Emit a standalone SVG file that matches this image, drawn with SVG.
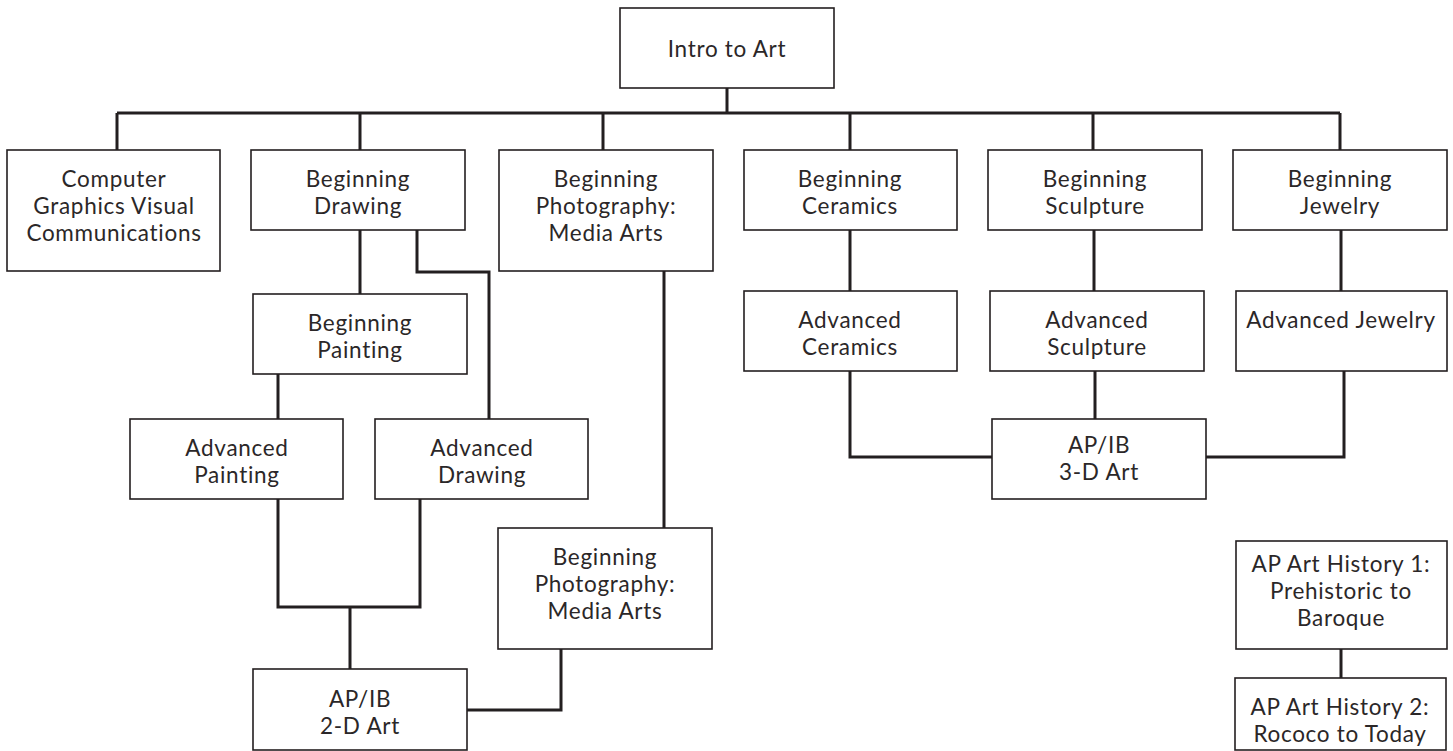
<svg xmlns="http://www.w3.org/2000/svg" width="1453" height="751" viewBox="0 0 1453 751">
<style>
.box{fill:#fff;stroke:#231f20;stroke-width:1.6}
.t{font-family:Lato,"Open Sans",sans-serif;font-size:22.5px;fill:#2b2728;text-anchor:middle;letter-spacing:0.7px}
.c{fill:none;stroke:#231f20;stroke-width:3}
</style>
<rect width="1453" height="751" fill="#fff"/>
<g id="connectors">
<path class="c" d="M727 88V113M117 113H1340M117 113V150M360 113V150M603 113V150M850 113V150M1093 113V150M1340 113V150"/>
<path class="c" d="M360 230V294M417 230V272H489V419M278 374V419"/>
<path class="c" d="M278 499V607H420V499M350 607V669"/>
<path class="c" d="M664 271V528M561 649V710H467"/>
<path class="c" d="M850 230V291M1094 230V291M1341 230V291"/>
<path class="c" d="M850 371V457H992M1095 371V419M1344 371V457H1206"/>
<path class="c" d="M1341 649V678"/>
</g>
<g id="intro"><rect class="box" x="620" y="8" width="214" height="80"/><text class="t" x="727" y="57">Intro to Art</text></g>
<g id="cg"><rect class="box" x="7" y="150" width="213" height="121"/><text class="t" x="114" y="187">Computer</text><text class="t" x="114" y="214">Graphics Visual</text><text class="t" x="114" y="241">Communications</text></g>
<g id="bdraw"><rect class="box" x="251" y="150" width="214" height="80"/><text class="t" x="358" y="187">Beginning</text><text class="t" x="358" y="214">Drawing</text></g>
<g id="bphoto"><rect class="box" x="499" y="150" width="214" height="121"/><text class="t" x="606" y="187">Beginning</text><text class="t" x="606" y="214">Photography:</text><text class="t" x="606" y="241">Media Arts</text></g>
<g id="bcer"><rect class="box" x="744" y="150" width="213" height="80"/><text class="t" x="850" y="187">Beginning</text><text class="t" x="850" y="214">Ceramics</text></g>
<g id="bsculp"><rect class="box" x="988" y="150" width="214" height="80"/><text class="t" x="1095" y="187">Beginning</text><text class="t" x="1095" y="214">Sculpture</text></g>
<g id="bjew"><rect class="box" x="1233" y="150" width="214" height="80"/><text class="t" x="1340" y="187">Beginning</text><text class="t" x="1340" y="214">Jewelry</text></g>
<g id="bpaint"><rect class="box" x="253" y="294" width="214" height="80"/><text class="t" x="360" y="331">Beginning</text><text class="t" x="360" y="358">Painting</text></g>
<g id="acer"><rect class="box" x="744" y="291" width="213" height="80"/><text class="t" x="850" y="328">Advanced</text><text class="t" x="850" y="355">Ceramics</text></g>
<g id="asculp"><rect class="box" x="990" y="291" width="214" height="80"/><text class="t" x="1097" y="328">Advanced</text><text class="t" x="1097" y="355">Sculpture</text></g>
<g id="ajew"><rect class="box" x="1236" y="291" width="211" height="80"/><text class="t" x="1341" y="328">Advanced Jewelry</text></g>
<g id="apaint"><rect class="box" x="130" y="419" width="213" height="80"/><text class="t" x="237" y="456">Advanced</text><text class="t" x="237" y="483">Painting</text></g>
<g id="adraw"><rect class="box" x="375" y="419" width="213" height="80"/><text class="t" x="482" y="456">Advanced</text><text class="t" x="482" y="483">Drawing</text></g>
<g id="ib3d"><rect class="box" x="992" y="419" width="214" height="80"/><text class="t" x="1099" y="453">AP/IB</text><text class="t" x="1099" y="480">3-D Art</text></g>
<g id="bphoto2"><rect class="box" x="498" y="528" width="214" height="121"/><text class="t" x="605" y="565">Beginning</text><text class="t" x="605" y="592">Photography:</text><text class="t" x="605" y="619">Media Arts</text></g>
<g id="ah1"><rect class="box" x="1236" y="541" width="211" height="108"/><text class="t" x="1341" y="572">AP Art History 1:</text><text class="t" x="1341" y="599">Prehistoric to</text><text class="t" x="1341" y="626">Baroque</text></g>
<g id="ib2d"><rect class="box" x="253" y="669" width="214" height="81"/><text class="t" x="360" y="707">AP/IB</text><text class="t" x="360" y="734">2-D Art</text></g>
<g id="ah2"><rect class="box" x="1235" y="678" width="211" height="72"/><text class="t" x="1340" y="715">AP Art History 2:</text><text class="t" x="1340" y="742">Rococo to Today</text></g>
</svg>
